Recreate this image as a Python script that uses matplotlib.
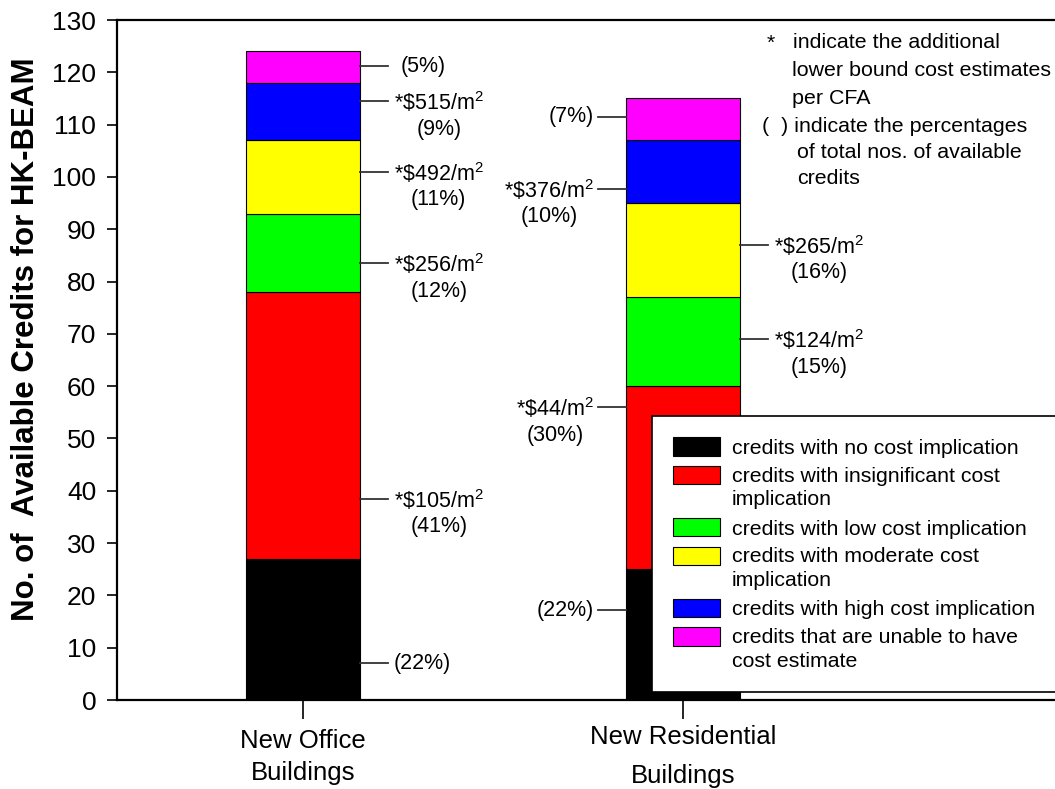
import numpy as np
import matplotlib.pyplot as plt
from matplotlib.transforms import ScaledTranslation

plt.rcParams['font.family'] = ['Liberation Sans', 'DejaVu Sans']
plt.rcParams['mathtext.fontset'] = 'custom'
plt.rcParams['mathtext.rm'] = 'Liberation Sans'
plt.rcParams['mathtext.it'] = 'Liberation Sans'
plt.rcParams['mathtext.bf'] = 'Liberation Sans:bold'

# DATA
categories = ['New Office\nBuildings', 'New Residential\nBuildings']
series = ['credits with no cost implication',
          'credits with insignificant cost\nimplication',
          'credits with low cost implication',
          'credits with moderate cost\nimplication',
          'credits with high cost implication',
          'credits that are unable to have\ncost estimate']
colors = ['#000000', '#ff0000', '#00ff00', '#ffff00', '#0000ff', '#ff00ff']
office = [27, 51, 15, 14, 11, 6]
resid = [25, 35, 17, 18, 12, 8]
office_pct = [22, 41, 12, 11, 9, 5]
resid_pct = [22, 30, 15, 16, 10, 7]
office_cost = [None, 105, 256, 492, 515, None]
resid_cost = [None, 44, 124, 265, 376, None]
# where each leader line meets its bar, and on which side of the bar
office_lead = [7, 38.5, 83.5, 101, 114.5, 121.2]
resid_lead = [17.2, 56, 69, 87, 97.7, 111.5]
resid_side = ['left', 'left', 'right', 'right', 'left', 'left']

fig = plt.figure(figsize=(10.55, 7.89), dpi=100)
ax = fig.add_axes([117/1055, 89/789, 970/1055, 680/789])

x = np.arange(len(categories))
width = 0.3
values = np.array([office, resid])
bottoms = np.zeros(len(categories))
for i in range(len(series)):
    ax.bar(x, values[:, i], width, bottom=bottoms, color=colors[i],
           edgecolor='black', linewidth=0.8, label=series[i])
    bottoms += values[:, i]

ax.set_xlim(-0.49, 2.063)
ax.set_ylim(0, 130)
ax.set_yticks(np.arange(0, 131, 10))
ax.set_xticks(x)
ax.set_xticklabels(categories, fontsize=18.5)
ax.tick_params(axis='y', labelsize=19, direction='out', length=7, width=1.2, pad=8)
ax.tick_params(axis='x', direction='out', length=14, width=1.2, pad=7)
xl = ax.get_xticklabels()
xl[0].set_linespacing(1.4)
xl[1].set_linespacing(1.8)
xl[1].set_transform(xl[1].get_transform() + ScaledTranslation(0, 3/72, fig.dpi_scale_trans))

ax.spines['right'].set_visible(False)
for s in ['left', 'bottom', 'top']:
    ax.spines[s].set_linewidth(1.6)

ax.set_ylabel('No. of  Available Credits for HK-BEAM', fontsize=22.5,
              fontweight='bold')
ax.yaxis.set_label_coords(-0.078, 0.531)


def label_text(cost, pct):
    if cost is None:
        return '(%d%%)' % pct
    return '*\\$%d/m$^2$\n(%d%%)' % (cost, pct)


lead = 0.074
fs = 15.5
for i in range(len(series)):
    # office: labels on the right
    x0 = x[0] + width / 2
    ax.plot([x0, x0 + lead], [office_lead[i]] * 2, color='#333333', lw=1.3)
    txt = label_text(office_cost[i], office_pct[i])
    dy = -10 if office_cost[i] is not None else 0
    dx = 9 if i == len(series) - 1 else 4
    ax.annotate(txt, (x0 + lead, office_lead[i]), xytext=(dx, dy),
                textcoords='offset points', ha='left', va='center',
                multialignment='center', fontsize=fs, linespacing=1.2)
    # residential: labels on either side
    txt = label_text(resid_cost[i], resid_pct[i])
    dy = -10 if resid_cost[i] is not None else 0
    if resid_side[i] == 'right':
        x0 = x[1] + width / 2
        ax.plot([x0, x0 + lead], [resid_lead[i]] * 2, color='#333333', lw=1.3)
        ax.annotate(txt, (x0 + lead, resid_lead[i]), xytext=(4, dy),
                    textcoords='offset points', ha='left', va='center',
                    multialignment='center', fontsize=fs, linespacing=1.2)
    else:
        x0 = x[1] - width / 2
        ax.plot([x0 - lead, x0], [resid_lead[i]] * 2, color='#333333', lw=1.3)
        ax.annotate(txt, (x0 - lead, resid_lead[i]), xytext=(-3, dy),
                    textcoords='offset points', ha='right', va='center',
                    multialignment='center', fontsize=fs, linespacing=1.2)

# notes in the top right corner
note = [('*', 767, 'indicate the additional', 793, 43),
        ('', 0, 'lower bound cost estimates', 792, 71),
        ('', 0, 'per CFA', 792, 98),
        ('(  )', 762, 'indicate the percentages', 0, 126),
        ('', 0, 'of total nos. of available', 797, 152),
        ('', 0, 'credits', 797, 179)]
for mark, mx, body, bx, y in note:
    if mark == '(  )':
        fig.text(mx/1055, 1 - y/789, '(  ) ' + body, fontsize=15.4, va='center')
        continue
    if mark:
        fig.text(mx/1055, 1 - y/789, mark, fontsize=15.4, va='center')
    fig.text(bx/1055, 1 - y/789, body, fontsize=15.4, va='center')

leg = ax.legend(loc='upper left',
                bbox_to_anchor=(652/1055, 1 - 416/789 - 0.01, 0.45, 0.01),
                bbox_transform=fig.transFigure, mode='expand', borderaxespad=0,
                fontsize=15.3, frameon=True, fancybox=False, framealpha=1,
                edgecolor='black', handlelength=2.2, handleheight=0.95,
                handletextpad=0.55, labelspacing=0.42, borderpad=1.0)
leg.get_frame().set_linewidth(1.2)
for t, h in zip(leg.get_texts(), leg.legend_handles):
    t.set_linespacing(1.3)
    if '\n' in t.get_text():
        # keep the swatch level with the first line of a wrapped label
        h.set_y(h.get_y() + 9.5)

fig.savefig('out.png', dpi=100)
